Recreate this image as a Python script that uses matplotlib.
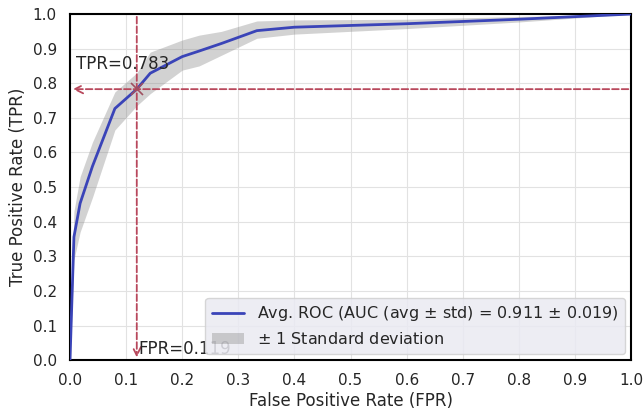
import matplotlib.pyplot as plt
import numpy as np
import seaborn as sns

# Curva ROC promedio
mean_fpr = [0.0, 0.007, 0.018, 0.04, 0.08, 0.119, 0.143, 0.2, 0.23, 0.27, 0.333, 0.4, 0.6, 0.8, 1.0]
mean_tpr = [0.0, 0.356, 0.453, 0.56, 0.727, 0.783, 0.829, 0.877, 0.893, 0.915, 0.952, 0.962, 0.972, 0.985, 1.0]
tpr_upper = [0.0, 0.43, 0.53, 0.63, 0.775, 0.83, 0.89, 0.925, 0.939, 0.95, 0.98, 0.983, 0.985, 0.993, 1.0]
tpr_lower = [0.0, 0.29, 0.37, 0.47, 0.665, 0.735, 0.77, 0.838, 0.85, 0.881, 0.93, 0.942, 0.958, 0.977, 1.0]

punto_fpr = 0.119
punto_tpr = 0.783
auc_mean = 0.911
auc_std = 0.019

sns.set_style("whitegrid")
plt.rcParams['font.family'] = ['DejaVu Sans']

fig = plt.figure(figsize=(6.44, 4.13), dpi=100)
ax = fig.add_axes([0.1087, 0.128, 0.8713, 0.838])

ax.plot(mean_fpr, mean_tpr, color='#3a44b8', lw=2,
        label='Avg. ROC (AUC (avg $\\pm$ std) = %0.3f $\\pm$ %0.3f)' % (auc_mean, auc_std), zorder=3)
ax.fill_between(mean_fpr, tpr_lower, tpr_upper, color='grey', alpha=0.35, lw=0,
                label='$\\pm$ 1 Standard deviation', zorder=2)

# Lineas punteadas hacia los ejes
rojo = '#b8485c'
ax.annotate('', xy=(0, punto_tpr), xytext=(1, punto_tpr),
            arrowprops=dict(arrowstyle='->', color=rojo, ls='--', lw=1.3, mutation_scale=15))
ax.annotate('', xy=(punto_fpr, 0), xytext=(punto_fpr, 1),
            arrowprops=dict(arrowstyle='->', color=rojo, ls='--', lw=1.3, mutation_scale=15))
ax.plot([punto_fpr], [punto_tpr], marker='x', color='#a05060', ms=9, mew=1.2, zorder=4)
ax.text(0.01, punto_tpr + 0.058, 'TPR=%0.3f' % punto_tpr, fontsize=12, color='#262626')
ax.text(punto_fpr + 0.002, 0.018, 'FPR=%0.3f' % punto_fpr, fontsize=12, color='#262626')

ax.set_xlim(0, 1)
ax.set_ylim(0, 1)
ax.set_xticks(np.arange(0, 1.01, 0.1))
ax.set_yticks(np.arange(0, 1.01, 0.1))
ax.tick_params(labelsize=11, colors='#262626', length=0, pad=9.5)
ax.set_xlabel('False Positive Rate (FPR)', fontsize=12, color='#262626', labelpad=3)
ax.set_ylabel('True Positive Rate (TPR)', fontsize=12, color='#262626', labelpad=4)
ax.grid(color='#e2e2e2', lw=0.8)
for s in ax.spines.values():
    s.set_color('black')
    s.set_linewidth(1.5)

leg = ax.legend(loc='lower right', fontsize=11.5, facecolor='#eaeaf2', framealpha=0.85,
                edgecolor='#d0d0d0', borderaxespad=0.4)
leg.set_zorder(10)

plt.savefig('out.png', dpi=100)
